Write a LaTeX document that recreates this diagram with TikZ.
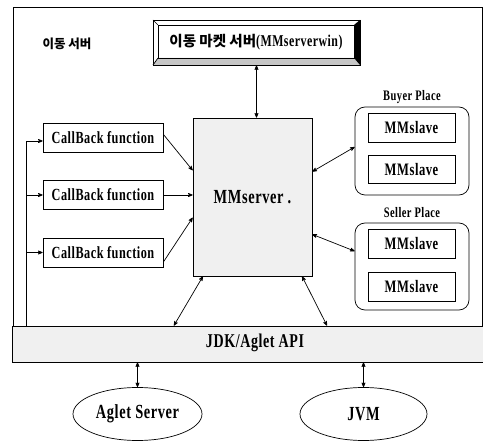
\documentclass[tikz,border=0pt]{standalone}
\usepackage{fontspec}
\setmainfont{Liberation Serif}[FakeStretch=0.72,LetterSpace=3]
\newfontfamily\krfont{Noto Sans CJK KR}
\usepackage{tikz}
\usetikzlibrary{positioning,arrows,shapes.geometric}

\begin{document}
\begin{tikzpicture}[x=1pt,y=-1pt,>=stealth',line width=0.7pt,
  every node/.style={inner sep=0pt,font=\bfseries},
  cbbox/.style={draw,minimum width=120,minimum height=29,font=\bfseries\fontsize{17}{19}\selectfont},
  slavebox/.style={draw,minimum width=87,minimum height=28.5,font=\bfseries\fontsize{17.5}{19}\selectfont},
  placebox/.style={draw,rounded corners=10pt,minimum width=114},
  placelabel/.style={font=\bfseries\fontsize{14.5}{16}\selectfont},
  ellbox/.style={draw,ellipse,minimum height=53,font=\bfseries\fontsize{20}{22}\selectfont},
  shaded/.style={draw,fill=gray!12}]
  \useasboundingbox (0,0) rectangle (483,441);
  % outer frame
  \draw (13,326) -- (13,7) -- (482,7) -- (482,326);
  \node[font=\krfont\bfseries\fontsize{12.5}{14}\selectfont] (title) at (67,44) {이동 서버};
  % market server window with bevel
  \node[draw,minimum width=207,minimum height=45] (win) at (256.5,42.5) {};
  \fill[gray!45] (153,65) -- (360,65) -- (354,58) -- (158,58) -- cycle;
  \fill (360,65) -- (360,20) -- (354,25) -- (354,58) -- cycle;
  \draw (158,25) rectangle (354,58);
  \draw (153,20) -- (158,25) (153,65) -- (158,58);
  \node[font=\bfseries\fontsize{16.5}{18}\selectfont] (wintext) at (256,42)
    {{\krfont\fontsize{14.5}{16}\selectfont 이동 마켓 서버}(MMserverwin)};
  % central server
  \node[shaded,minimum width=119,minimum height=158] (server) at (252.5,197)
    {\fontsize{20}{22}\selectfont MMserver .};
  % callbacks
  \node[cbbox] (cb1) at (103,137.5) {CallBack function};
  \node[cbbox] (cb2) at (103,195) {CallBack function};
  \node[cbbox] (cb3) at (103,252.5) {CallBack function};
  % places
  \node[placebox,minimum height=88] (buyer) at (412,151) {};
  \node[placelabel] (buyerlbl) at (412,97) {Buyer Place};
  \node[slavebox] (bs1) at (411.5,128) {MMslave};
  \node[slavebox] (bs2) at (411.5,169.5) {MMslave};
  \node[placebox,minimum height=87] (seller) at (412,266.5) {};
  \node[placelabel] (sellerlbl) at (412,213) {Seller Place};
  \node[slavebox] (ss1) at (411.5,244) {MMslave};
  \node[slavebox] (ss2) at (411.5,287) {MMslave};
  % API bar and below
  \node[shaded,minimum width=471,minimum height=36] (api) at (247.5,344) {};
  \node[font=\bfseries\fontsize{19.5}{22}\selectfont] (apitext) at (255,343) {JDK/Aglet API};
  \node[ellbox,minimum width=129] (aglet) at (137.5,414) {Aglet Server};
  \node[ellbox,minimum width=127] (jvm) at (363.5,414) {JVM};
  % connectors
  \coordinate (fb) at (26,141);
  \draw[<->] (win.south) -- (win.south |- server.north);
  \draw[->] (api.north -| fb) -- (fb) -- (fb -| cb1.west);
  \draw[->] (fb |- cb2.west) -- (cb2.west);
  \draw[->] (fb |- cb3.west) -- (cb3.west);
  \draw[->] (cb1.3) -- (server.156);
  \draw[->] (cb2.east) -- (server.west |- cb2.east);
  \draw[->] (cb3.-9) -- (server.199);
  \draw[<->] (server.23) -- (buyer.176);
  \draw[<->] (server.-32) -- (seller.165);
  \draw[<->] (server.238) -- (api.166.4);
  \draw[<->] (server.-58) -- (api.13.4);
  \draw[<->] (api.south -| aglet.north) -- (aglet.north);
  \draw[<->] (api.south -| jvm.north) -- (jvm.north);
\end{tikzpicture}
\end{document}
